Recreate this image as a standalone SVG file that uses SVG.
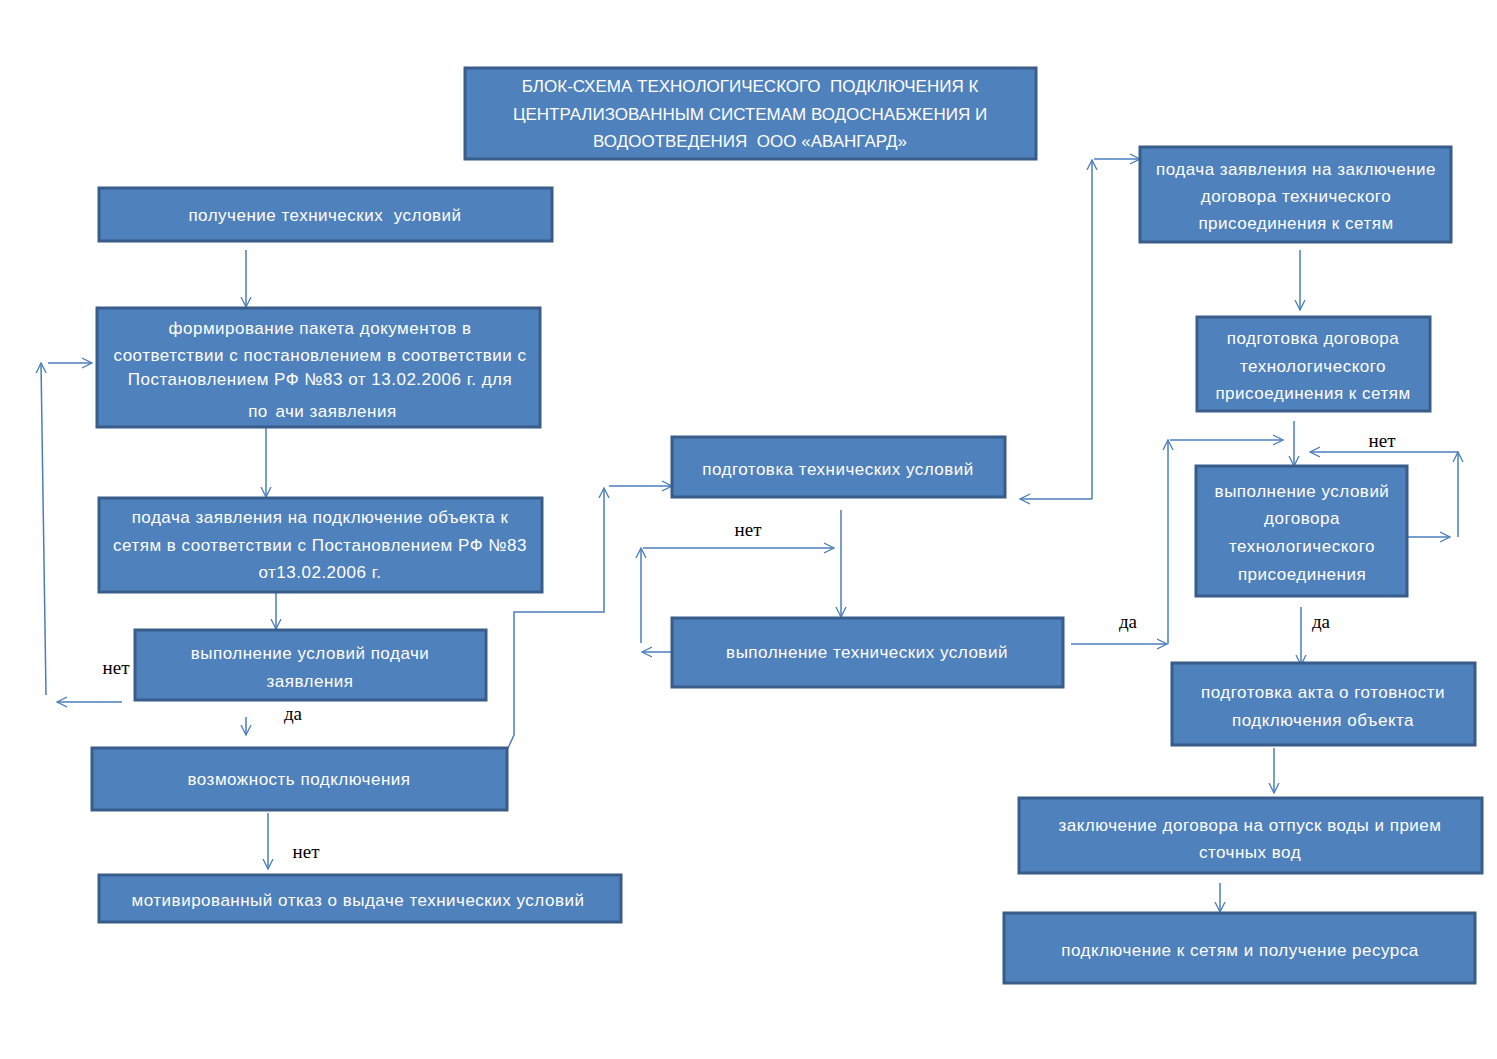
<svg xmlns="http://www.w3.org/2000/svg" width="1497" height="1059" viewBox="0 0 1497 1059">
<style>
.box{fill:#4F81BD;stroke:#385D8A;stroke-width:3}
.t{font-family:"Liberation Sans",Arial,sans-serif;font-size:17px;letter-spacing:0.5px;fill:#FFFFFF;text-anchor:middle;white-space:pre}
.tt{font-family:"Liberation Sans",Arial,sans-serif;font-size:17px;fill:#FFFFFF;text-anchor:middle;white-space:pre}
.lbl{font-family:"Liberation Serif","Times New Roman",serif;font-size:19px;fill:#000000;text-anchor:middle}
.c{fill:none;stroke:#4A7EBB;stroke-width:1.5}
</style>
<defs>
<marker id="a" markerUnits="userSpaceOnUse" markerWidth="12" markerHeight="12" refX="10" refY="5" orient="auto" viewBox="0 0 12 10">
<path d="M0,0 L10,5 L0,10" fill="none" stroke="#4A7EBB" stroke-width="1.3"/>
</marker>
</defs>
<rect width="1497" height="1059" fill="#FFFFFF"/>

<g id="connectors">
<path class="c" d="M246,250 V307" marker-end="url(#a)"/>
<path class="c" d="M266,427 V497" marker-end="url(#a)"/>
<path class="c" d="M276,592 V629" marker-end="url(#a)"/>
<path class="c" d="M246,717 V735" marker-end="url(#a)"/>
<path class="c" d="M268,813 V869" marker-end="url(#a)"/>
<path class="c" d="M122,702 H57" marker-end="url(#a)"/>
<path class="c" d="M46,695 L41,363" marker-end="url(#a)"/>
<path class="c" d="M48,363 H92" marker-end="url(#a)"/>
<path class="c" d="M484,805 L508,748 L514,735 V612 H604 V488" marker-end="url(#a)"/>
<path class="c" d="M609,486 H672" marker-end="url(#a)"/>
<path class="c" d="M672,652 H642" marker-end="url(#a)"/>
<path class="c" d="M641,643 V548" marker-end="url(#a)"/>
<path class="c" d="M643,548 H834" marker-end="url(#a)"/>
<path class="c" d="M841,510 V617" marker-end="url(#a)"/>
<path class="c" d="M1071,644 H1167" marker-end="url(#a)"/>
<path class="c" d="M1168,644 V440" marker-end="url(#a)"/>
<path class="c" d="M1170,440 H1283" marker-end="url(#a)"/>
<path class="c" d="M1092,499 H1020" marker-end="url(#a)"/>
<path class="c" d="M1092,499 V160" marker-end="url(#a)"/>
<path class="c" d="M1094,159 H1140" marker-end="url(#a)"/>
<path class="c" d="M1300,250 V310" marker-end="url(#a)"/>
<path class="c" d="M1294,421 V466" marker-end="url(#a)"/>
<path class="c" d="M1408,537 H1450" marker-end="url(#a)"/>
<path class="c" d="M1458,537 V452" marker-end="url(#a)"/>
<path class="c" d="M1458,452 H1310" marker-end="url(#a)"/>
<path class="c" d="M1301,607 V665" marker-end="url(#a)"/>
<path class="c" d="M1274,748 V793" marker-end="url(#a)"/>
<path class="c" d="M1220,883 V912" marker-end="url(#a)"/>
<text class="lbl" x="116" y="674">нет</text>
<text class="lbl" x="293" y="720">да</text>
<text class="lbl" x="306" y="858">нет</text>
<text class="lbl" x="748" y="536">нет</text>
<text class="lbl" x="1128" y="628">да</text>
<text class="lbl" x="1321" y="628">да</text>
<text class="lbl" x="1382" y="447">нет</text>
</g>

<g id="title">
<rect class="box" x="465" y="68" width="571" height="91"/>
<text class="tt" x="750" y="92">БЛОК-СХЕМА ТЕХНОЛОГИЧЕСКОГО  ПОДКЛЮЧЕНИЯ К</text>
<text class="tt" x="750" y="120">ЦЕНТРАЛИЗОВАННЫМ СИСТЕМАМ ВОДОСНАБЖЕНИЯ И</text>
<text class="tt" x="750" y="147">ВОДООТВЕДЕНИЯ  ООО «АВАНГАРД»</text>
</g>
<g id="n1">
<rect class="box" x="99" y="188" width="453" height="53"/>
<text class="t" x="325" y="221">получение технических  условий</text>
</g>
<g id="n2">
<rect class="box" x="97" y="308" width="443" height="119"/>
<text class="t" x="320" y="334">формирование пакета документов в</text>
<text class="t" x="320" y="361">соответствии с постановлением в соответствии с</text>
<text class="t" x="320" y="385">Постановлением РФ №83 от 13.02.2006 г. для</text>
<text class="t" x="258" y="417">по</text>
<text class="t" x="336" y="417">ачи заявления</text>
</g>
<g id="n3">
<rect class="box" x="99" y="498" width="443" height="94"/>
<text class="t" x="320" y="523">подача заявления на подключение объекта к</text>
<text class="t" x="320" y="551">сетям в соответствии с Постановлением РФ №83</text>
<text class="t" x="320" y="578">от13.02.2006 г.</text>
</g>
<g id="n4">
<rect class="box" x="135" y="630" width="351" height="70"/>
<text class="t" x="310" y="659">выполнение условий подачи</text>
<text class="t" x="310" y="687">заявления</text>
</g>
<g id="n5">
<rect class="box" x="92" y="748" width="415" height="62"/>
<text class="t" x="299" y="785">возможность подключения</text>
</g>
<g id="n6">
<rect class="box" x="99" y="875" width="522" height="47"/>
<text class="t" x="358" y="906">мотивированный отказ о выдаче технических условий</text>
</g>
<g id="n7">
<rect class="box" x="672" y="437" width="333" height="60"/>
<text class="t" x="838" y="475">подготовка технических условий</text>
</g>
<g id="n8">
<rect class="box" x="672" y="618" width="391" height="69"/>
<text class="t" x="867" y="658">выполнение технических условий</text>
</g>
<g id="n9">
<rect class="box" x="1140" y="147" width="311" height="95"/>
<text class="t" x="1296" y="175">подача заявления на заключение</text>
<text class="t" x="1296" y="202">договора технического</text>
<text class="t" x="1296" y="229">присоединения к сетям</text>
</g>
<g id="n10">
<rect class="box" x="1197" y="317" width="233" height="94"/>
<text class="t" x="1313" y="344">подготовка договора</text>
<text class="t" x="1313" y="372">технологического</text>
<text class="t" x="1313" y="399">присоединения к сетям</text>
</g>
<g id="n11">
<rect class="box" x="1196" y="466" width="211" height="130"/>
<text class="t" x="1302" y="497">выполнение условий</text>
<text class="t" x="1302" y="524">договора</text>
<text class="t" x="1302" y="552">технологического</text>
<text class="t" x="1302" y="580">присоединения</text>
</g>
<g id="n12">
<rect class="box" x="1172" y="663" width="303" height="82"/>
<text class="t" x="1323" y="698">подготовка акта о готовности</text>
<text class="t" x="1323" y="726">подключения объекта</text>
</g>
<g id="n13">
<rect class="box" x="1019" y="798" width="463" height="75"/>
<text class="t" x="1250" y="831">заключение договора на отпуск воды и прием</text>
<text class="t" x="1250" y="858">сточных вод</text>
</g>
<g id="n14">
<rect class="box" x="1004" y="913" width="471" height="70"/>
<text class="t" x="1240" y="956">подключение к сетям и получение ресурса</text>
</g>
</svg>
